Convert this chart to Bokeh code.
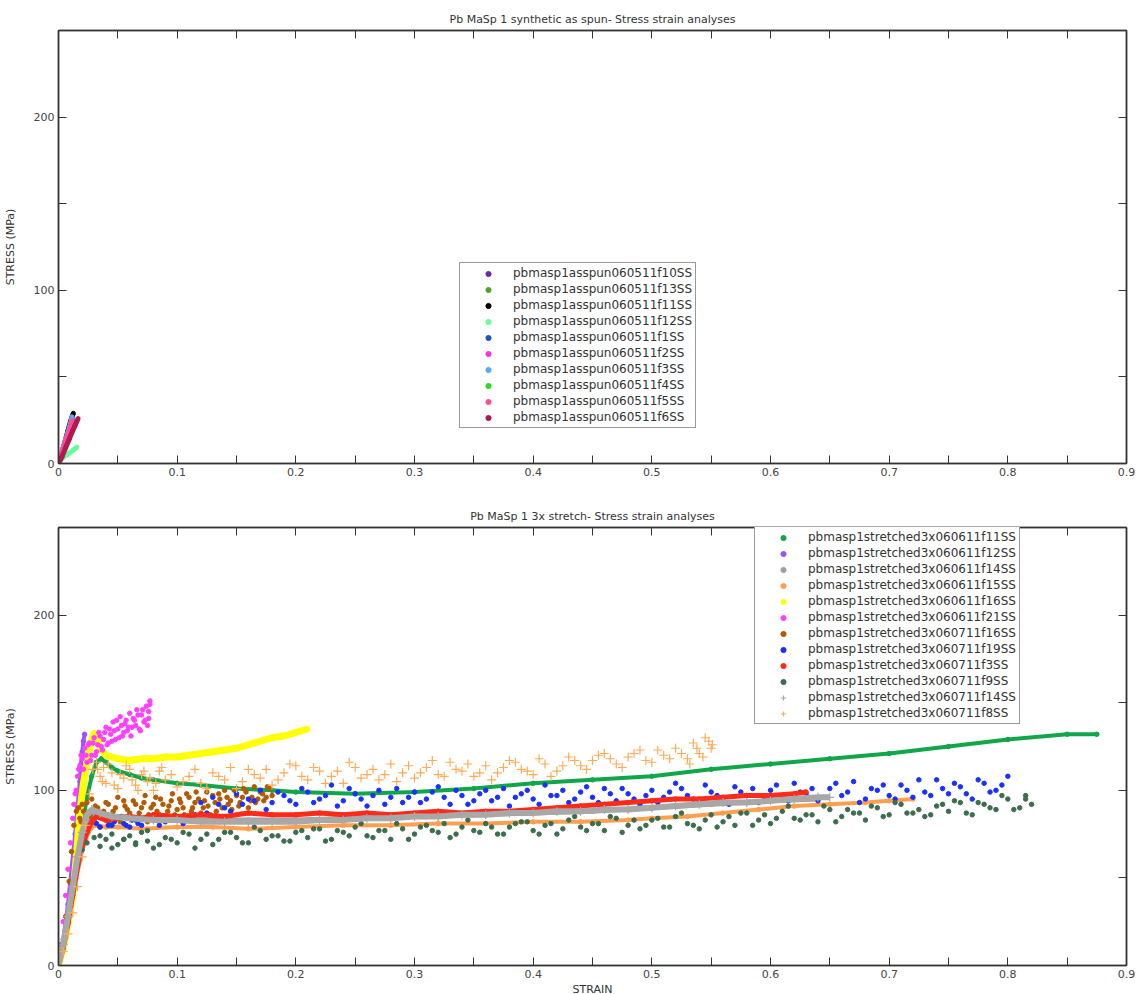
from bokeh.plotting import figure
from bokeh.models import FixedTicker, LinearAxis, Legend, LegendItem, Range1d
from bokeh.layouts import column
from bokeh.embed import file_html
from bokeh.resources import INLINE

FONT = "DejaVu Sans"

# ---------------- axis ticks ----------------
x_ticks = [0, 0.1, 0.2, 0.3, 0.4, 0.5, 0.6, 0.7, 0.8, 0.9]
x_tick_labels = ["0", "0.1", "0.2", "0.3", "0.4", "0.5", "0.6", "0.7", "0.8", "0.9"]
x_minor = [0.05, 0.15, 0.25, 0.35, 0.45, 0.55, 0.65, 0.75, 0.85]
y_ticks = [0, 100, 200]
y_tick_labels = ["0", "100", "200"]
y_minor = [50, 150]

# ---------------- top chart: as spun ----------------
top_names = ["pbmasp1asspun060511f10SS", "pbmasp1asspun060511f13SS", "pbmasp1asspun060511f11SS",
             "pbmasp1asspun060511f12SS", "pbmasp1asspun060511f1SS", "pbmasp1asspun060511f2SS",
             "pbmasp1asspun060511f3SS", "pbmasp1asspun060511f4SS", "pbmasp1asspun060511f5SS",
             "pbmasp1asspun060511f6SS"]
top_colors = ["#6a2bb0", "#5aa02c", "#000000", "#66ff99", "#2255bb", "#ff33dd",
              "#55aaff", "#22dd22", "#ff4d9a", "#b01a50"]

f10_strain = [0, 0.002, 0.004, 0.006, 0.008, 0.010, 0.011]
f10_stress = [0, 4, 8, 12, 16, 20, 22]
f13_strain = [0, 0.003, 0.005, 0.008, 0.010, 0.013]
f13_stress = [0, 5, 9, 14, 18, 24]
f11_strain = [0, 0.002, 0.004, 0.006, 0.008, 0.010, 0.0115, 0.0125]
f11_stress = [0, 4, 9, 14, 19, 24, 27, 29]
f12_strain = [0, 0.002, 0.004, 0.007, 0.010, 0.013, 0.0155]
f12_stress = [0, 2, 3.5, 5, 6.5, 8, 9.5]
f1_strain = [0, 0.003, 0.006, 0.009, 0.012]
f1_stress = [0, 6, 13, 19, 25]
f2_strain = [0, 0.002, 0.004, 0.006, 0.008, 0.010, 0.011]
f2_stress = [0, 4, 8, 12, 17, 21, 23]
f3_strain = [0, 0.002, 0.004, 0.006, 0.008, 0.010, 0.0115]
f3_stress = [0, 5, 9, 14, 18, 23, 27]
f4_strain = [0, 0.003, 0.006, 0.008, 0.010]
f4_stress = [0, 5, 11, 14, 18]
f5_strain = [0, 0.002, 0.004, 0.006, 0.008, 0.010, 0.0115]
f5_stress = [0, 4, 9, 13, 17, 21, 25]
f6_strain = [0, 0.003, 0.006, 0.009, 0.012, 0.014, 0.0165]
f6_stress = [0, 4, 9, 14, 19, 22, 26]

top_strain = [f10_strain, f13_strain, f11_strain, f12_strain, f1_strain, f2_strain,
              f3_strain, f4_strain, f5_strain, f6_strain]
top_stress = [f10_stress, f13_stress, f11_stress, f12_stress, f1_stress, f2_stress,
              f3_stress, f4_stress, f5_stress, f6_stress]

# ---------------- bottom chart: 3x stretched ----------------
bot_names = ["pbmasp1stretched3x060611f11SS", "pbmasp1stretched3x060611f12SS",
             "pbmasp1stretched3x060611f14SS", "pbmasp1stretched3x060611f15SS",
             "pbmasp1stretched3x060611f16SS", "pbmasp1stretched3x060611f21SS",
             "pbmasp1stretched3x060711f16SS", "pbmasp1stretched3x060711f19SS",
             "pbmasp1stretched3x060711f3SS", "pbmasp1stretched3x060711f9SS",
             "pbmasp1stretched3x060711f14SS", "pbmasp1stretched3x060711f8SS"]
bot_colors = ["#12a64a", "#9b55ff", "#a0a0a0", "#ffa050", "#ffff00", "#ff40ff",
              "#b35900", "#1a30ff", "#ff2a1a", "#3c6e4e", "#a8a8a8", "#ffaa55"]

a11_strain = [0, 0.004, 0.008, 0.012, 0.016, 0.02, 0.024, 0.028, 0.032, 0.036, 0.04, 0.045, 0.05,
              0.06, 0.07, 0.08, 0.1, 0.12, 0.15, 0.18, 0.2, 0.25, 0.3, 0.35, 0.4, 0.45, 0.5, 0.55,
              0.6, 0.65, 0.7, 0.75, 0.8, 0.85, 0.875]
a11_stress = [0, 12, 28, 45, 62, 80, 96, 108, 116, 118, 116, 113, 111, 109, 107, 106, 104, 103,
              101, 100, 99, 98, 99, 101, 104, 106, 108, 112, 115, 118, 121, 125, 129, 132, 132]

a12_strain = [0, 0.004, 0.008, 0.011, 0.014, 0.016, 0.018, 0.019, 0.02, 0.021, 0.022]
a12_stress = [0, 15, 35, 55, 75, 90, 105, 115, 122, 128, 132]

a14_strain = [0, 0.005, 0.01, 0.015, 0.02, 0.025, 0.03, 0.05, 0.08, 0.12, 0.16, 0.2, 0.25, 0.3,
              0.35, 0.4, 0.45, 0.5, 0.55, 0.6, 0.64]
a14_stress = [0, 14, 33, 52, 70, 84, 88, 85, 84, 83, 83, 83, 84, 85, 86, 87, 88, 90, 92, 94, 95]

a15_strain = [0, 0.005, 0.01, 0.015, 0.02, 0.025, 0.03, 0.04, 0.05, 0.07, 0.1, 0.13, 0.16, 0.2,
              0.24, 0.28, 0.32, 0.36, 0.4, 0.44, 0.48, 0.5, 0.53, 0.56, 0.59, 0.62, 0.65, 0.68,
              0.7, 0.72]
a15_stress = [0, 12, 30, 50, 66, 76, 80, 79, 79, 78, 79, 79, 78, 79, 80, 80, 81, 81, 82, 82, 83,
              84, 85, 87, 89, 91, 92, 93, 94, 95]

a16_strain = [0, 0.004, 0.008, 0.012, 0.015, 0.018, 0.021, 0.024, 0.027, 0.03, 0.033, 0.036, 0.04,
              0.05, 0.06, 0.07, 0.08, 0.09, 0.1, 0.11, 0.12, 0.13, 0.14, 0.15, 0.16, 0.17, 0.18,
              0.19, 0.2, 0.21]
a16_stress = [0, 10, 24, 40, 62, 88, 104, 116, 126, 133, 128, 123, 120, 118, 117, 118, 118, 119,
              119, 120, 121, 122, 123, 124, 126, 128, 130, 131, 133, 135]

a21_strain = [0, 0.002, 0.004, 0.006, 0.008, 0.01, 0.012, 0.014, 0.016, 0.018, 0.02, 0.022, 0.024,
              0.026, 0.028, 0.03, 0.032, 0.034, 0.036, 0.038, 0.04, 0.042, 0.044, 0.046, 0.048,
              0.05, 0.052, 0.054, 0.056, 0.058, 0.06, 0.062, 0.064, 0.066, 0.068, 0.07, 0.072,
              0.074, 0.076, 0.077,
              0.013, 0.015, 0.017, 0.019, 0.021, 0.023, 0.025, 0.027, 0.029, 0.031, 0.033, 0.035,
              0.037, 0.039, 0.041, 0.043, 0.045, 0.047, 0.049, 0.051, 0.053, 0.055, 0.057, 0.059,
              0.061, 0.063, 0.065, 0.067, 0.069, 0.071, 0.073, 0.075, 0.076, 0.077]
a21_stress = [0, 12, 25, 40, 55, 70, 84, 98, 108, 114, 118, 124, 116, 127, 120, 130, 122, 133,
              125, 129, 136, 127, 132, 139, 129, 135, 142, 131, 138, 134, 144, 136, 140, 146,
              135, 143, 139, 148, 141, 151,
              92, 100, 112, 120, 112, 120, 126, 117, 127, 120, 126, 131, 123, 133, 126, 135, 128,
              134, 140, 130, 137, 133, 140, 136, 131, 141, 137, 143, 134, 146, 140, 137, 145, 149]

b16_strain = [0, 0.003, 0.006, 0.009, 0.011, 0.013, 0.015, 0.018, 0.02, 0.022, 0.025, 0.028, 0.03,
              0.033, 0.036, 0.04, 0.043, 0.046, 0.05, 0.053, 0.056, 0.06, 0.063, 0.066, 0.07,
              0.073, 0.076, 0.08, 0.083, 0.086, 0.09, 0.093, 0.096, 0.1, 0.103, 0.106, 0.11,
              0.113, 0.116, 0.12, 0.123, 0.126, 0.13, 0.133, 0.136, 0.14, 0.143, 0.146, 0.15,
              0.153, 0.156, 0.16, 0.163, 0.166, 0.17, 0.173, 0.176, 0.18,
              0.017, 0.019, 0.021, 0.024, 0.027, 0.031, 0.035, 0.038, 0.042, 0.045, 0.048, 0.052,
              0.055, 0.058, 0.062, 0.065, 0.068, 0.072, 0.075, 0.078, 0.082, 0.085, 0.088, 0.092,
              0.095, 0.098, 0.102, 0.105, 0.108, 0.112, 0.115, 0.118, 0.122, 0.125, 0.128, 0.132,
              0.135, 0.138, 0.142, 0.145, 0.148, 0.152, 0.155, 0.158, 0.162, 0.165, 0.168, 0.172,
              0.175, 0.178]
b16_stress = [0, 12, 28, 48, 65, 80, 88, 84, 92, 80, 87, 95, 82, 90, 86, 93, 81, 88, 96, 85, 91,
              87, 94, 83, 90, 97, 86, 92, 88, 95, 84, 91, 98, 89, 93, 86, 96, 90, 99, 87, 94, 91,
              97, 88, 95, 100, 92, 89, 97, 93, 101, 90, 96, 93, 99, 94, 102, 97,
              90, 82, 88, 93, 85, 91, 79, 88, 92, 84, 90, 82, 94, 89, 84, 92, 87, 93, 82, 90, 96,
              86, 92, 88, 94, 86, 95, 90, 98, 88, 93, 95, 90, 99, 86, 93, 98, 90, 96, 94, 100, 91,
              96, 99, 94, 102, 95, 98, 96, 101]

b19_strain = [0, 0.004, 0.008, 0.012, 0.016, 0.02, 0.024, 0.03, 0.035, 0.04, 0.045, 0.05, 0.055,
              0.06, 0.065, 0.07, 0.08, 0.09, 0.1, 0.11, 0.12, 0.125, 0.13, 0.14, 0.15, 0.155,
              0.16, 0.17, 0.18, 0.19, 0.2, 0.21, 0.22, 0.23, 0.24, 0.25, 0.26, 0.27, 0.28, 0.29,
              0.3, 0.31, 0.32, 0.33, 0.34, 0.35, 0.36, 0.37, 0.38, 0.39, 0.4, 0.41, 0.42, 0.43,
              0.44, 0.45, 0.46, 0.47, 0.48, 0.49, 0.5, 0.51, 0.52, 0.53, 0.54, 0.55, 0.56, 0.57,
              0.58, 0.59, 0.6, 0.61, 0.62, 0.63, 0.64, 0.65, 0.66, 0.67, 0.68, 0.69, 0.7, 0.71,
              0.72, 0.73, 0.74, 0.75, 0.76, 0.77, 0.78, 0.79, 0.8,
              0.032, 0.037, 0.042, 0.047, 0.052, 0.057, 0.062, 0.067, 0.075, 0.085, 0.095, 0.105,
              0.115, 0.135, 0.145, 0.165, 0.175, 0.185, 0.195, 0.205, 0.215, 0.225, 0.235, 0.245,
              0.255, 0.265, 0.275, 0.285, 0.295, 0.305, 0.315, 0.325, 0.335, 0.345, 0.355, 0.365,
              0.375, 0.385, 0.395, 0.405, 0.415, 0.425, 0.435, 0.445, 0.455, 0.465, 0.475, 0.485,
              0.495, 0.505, 0.515, 0.525, 0.535, 0.545, 0.555, 0.565, 0.575, 0.585, 0.595, 0.605,
              0.615, 0.625, 0.635, 0.645, 0.655, 0.665, 0.675, 0.685, 0.695, 0.705, 0.715, 0.725,
              0.735, 0.745, 0.755, 0.765, 0.775, 0.785, 0.795]
b19_stress = [0, 10, 25, 42, 58, 72, 80, 82, 79, 83, 80, 84, 81, 79, 83, 80, 84, 82, 85, 83, 93,
              87, 96, 90, 98, 92, 95, 100, 93, 97, 92, 99, 95, 103, 94, 98, 91, 100, 96, 93, 99,
              95, 102, 92, 97, 94, 100, 96, 91, 98, 95, 103, 97, 93, 99, 96, 101, 94, 98, 92,
              100, 96, 104, 97, 93, 99, 95, 102, 97, 93, 100, 96, 104, 98, 94, 101, 97, 105, 95,
              100, 97, 103, 96, 99, 106, 98, 102, 95, 104, 100, 108,
              81, 84, 80, 82, 85, 80, 83, 81, 84, 80, 83, 81, 86, 92, 88, 94, 89, 99, 94, 101, 93,
              97, 91, 101, 95, 97, 92, 101, 96, 93, 99, 96, 100, 92, 98, 94, 101, 96, 100, 92,
              97, 100, 95, 102, 93, 98, 101, 95, 97, 93, 99, 101, 95, 103, 97, 92, 99, 101, 96,
              103, 94, 99, 101, 96, 104, 99, 93, 101, 103, 95, 100, 106, 97, 101, 104, 98, 106,
              99, 103]

b3_strain = [0, 0.004, 0.008, 0.012, 0.016, 0.02, 0.024, 0.028, 0.032, 0.04, 0.05, 0.06, 0.07,
             0.08, 0.1, 0.12, 0.14, 0.16, 0.18, 0.2, 0.22, 0.24, 0.26, 0.28, 0.3, 0.32, 0.34,
             0.36, 0.38, 0.4, 0.42, 0.44, 0.46, 0.48, 0.5, 0.52, 0.54, 0.56, 0.58, 0.6, 0.62,
             0.63]
b3_stress = [0, 10, 24, 40, 56, 68, 76, 82, 85, 83, 84, 85, 84, 86, 85, 86, 85, 87, 86, 86, 87,
             86, 87, 86, 87, 88, 87, 88, 88, 89, 90, 91, 92, 93, 94, 95, 95, 96, 97, 97, 98, 99]

b9_strain = [0, 0.004, 0.008, 0.012, 0.016, 0.02, 0.024, 0.03, 0.035, 0.04, 0.045, 0.05, 0.055,
             0.06, 0.065, 0.07, 0.075, 0.08, 0.09, 0.1, 0.11, 0.12, 0.13, 0.14, 0.15, 0.16, 0.17,
             0.18, 0.19, 0.2, 0.21, 0.22, 0.23, 0.24, 0.25, 0.26, 0.27, 0.28, 0.29, 0.3, 0.31,
             0.32, 0.33, 0.34, 0.35, 0.36, 0.37, 0.38, 0.39, 0.4, 0.41, 0.42, 0.43, 0.44, 0.45,
             0.46, 0.47, 0.48, 0.49, 0.5, 0.51, 0.52, 0.53, 0.54, 0.55, 0.56, 0.57, 0.58, 0.59,
             0.6, 0.61, 0.62, 0.63, 0.64, 0.65, 0.66, 0.67, 0.68, 0.69, 0.7, 0.71, 0.72, 0.73,
             0.74, 0.75, 0.76, 0.77, 0.78, 0.79, 0.8, 0.81, 0.815, 0.82,
             0.035, 0.045, 0.055, 0.065, 0.075, 0.085, 0.095, 0.105, 0.115, 0.125, 0.135, 0.145,
             0.155, 0.165, 0.175, 0.185, 0.195, 0.205, 0.215, 0.225, 0.235, 0.245, 0.255, 0.265,
             0.275, 0.285, 0.295, 0.305, 0.315, 0.325, 0.335, 0.345, 0.355, 0.365, 0.375, 0.385,
             0.395, 0.405, 0.415, 0.425, 0.435, 0.445, 0.455, 0.465, 0.475, 0.485, 0.495, 0.505,
             0.515, 0.525, 0.535, 0.545, 0.555, 0.565, 0.575, 0.585, 0.595, 0.605, 0.615, 0.625,
             0.635, 0.645, 0.655, 0.665, 0.675, 0.685, 0.695, 0.705, 0.715, 0.725, 0.735, 0.745,
             0.755, 0.765, 0.775, 0.785, 0.795, 0.805, 0.815]
b9_stress = [0, 12, 28, 45, 58, 66, 70, 73, 68, 72, 75, 69, 72, 74, 70, 76, 71, 67, 73, 70, 75,
             72, 69, 76, 73, 70, 77, 74, 71, 76, 73, 78, 72, 76, 79, 74, 77, 72, 78, 75, 80, 76,
             73, 79, 77, 81, 75, 79, 82, 77, 80, 75, 83, 79, 81, 77, 84, 80, 78, 83, 79, 85, 81,
             78, 86, 82, 80, 87, 83, 81, 88, 84, 86, 82, 89, 85, 87, 83, 90, 86, 92, 87, 85, 91,
             88, 93, 86, 92, 89, 95, 90, 97, 92,
             74, 67, 72, 69, 77, 69, 72, 76, 67, 75, 72, 76, 70, 79, 72, 74, 71, 77, 78, 71, 77,
             74, 81, 73, 77, 81, 72, 79, 77, 81, 75, 83, 76, 79, 75, 81, 82, 75, 81, 78, 85, 77,
             81, 85, 76, 83, 80, 84, 79, 87, 80, 83, 79, 85, 87, 80, 86, 84, 91, 83, 86, 91, 82,
             89, 87, 91, 85, 93, 87, 89, 86, 92, 94, 87, 93, 90, 97, 89, 95]

b14_strain = [0, 0.004, 0.008, 0.012, 0.016, 0.02, 0.024, 0.028, 0.035, 0.045, 0.06, 0.08, 0.1,
              0.12, 0.14, 0.16, 0.18, 0.2, 0.22, 0.24, 0.26, 0.28, 0.3, 0.32, 0.34, 0.36, 0.38,
              0.4, 0.42, 0.44, 0.46, 0.48, 0.5, 0.52, 0.54, 0.56, 0.58, 0.6, 0.62, 0.64, 0.65]
b14_stress = [0, 12, 28, 45, 62, 76, 86, 89, 87, 85, 84, 83, 83, 82, 82, 82, 82, 82, 83, 83, 84,
              84, 85, 85, 86, 86, 87, 87, 88, 88, 89, 89, 90, 91, 92, 93, 93, 94, 95, 96, 96]

b8_strain = [0, 0.004, 0.008, 0.012, 0.016, 0.02, 0.023, 0.026, 0.029, 0.032, 0.035, 0.038, 0.04,
             0.045, 0.05, 0.055, 0.06, 0.065, 0.07, 0.075, 0.08, 0.085, 0.09, 0.1, 0.11, 0.12,
             0.13, 0.14, 0.15, 0.16, 0.17, 0.18, 0.19, 0.2, 0.21, 0.22, 0.23, 0.24, 0.25, 0.26,
             0.27, 0.28, 0.29, 0.3, 0.31, 0.32, 0.33, 0.34, 0.35, 0.36, 0.37, 0.38, 0.39, 0.4,
             0.41, 0.42, 0.43, 0.44, 0.45, 0.46, 0.47, 0.48, 0.49, 0.5, 0.51, 0.52, 0.53, 0.535,
             0.54, 0.545, 0.55,
             0.033, 0.037, 0.042, 0.047, 0.052, 0.057, 0.062, 0.067, 0.072, 0.077, 0.082, 0.087,
             0.095, 0.105, 0.115, 0.125, 0.135, 0.145, 0.155, 0.165, 0.175, 0.185, 0.195, 0.205,
             0.215, 0.225, 0.235, 0.245, 0.255, 0.265, 0.275, 0.285, 0.295, 0.305, 0.315, 0.325,
             0.335, 0.345, 0.355, 0.365, 0.375, 0.385, 0.395, 0.405, 0.415, 0.425, 0.435, 0.445,
             0.455, 0.465, 0.475, 0.485, 0.495, 0.505, 0.515, 0.525, 0.532, 0.538, 0.543, 0.548,
             0.551]
b8_stress = [0, 8, 18, 30, 45, 62, 80, 98, 112, 116, 108, 113, 104, 110, 101, 107, 112, 103, 109,
             105, 100, 111, 106, 102, 108, 104, 110, 106, 101, 112, 107, 103, 110, 114, 106, 111,
             108, 104, 113, 109, 106, 115, 110, 107, 113, 109, 116, 111, 108, 114, 110, 117, 112,
             109, 115, 111, 119, 114, 117, 121, 115, 119, 123, 116, 120, 124, 118, 127, 121, 130,
             124,
             112, 105, 115, 103, 109, 114, 106, 100, 111, 107, 104, 113, 109, 105, 112, 101, 108,
             113, 105, 109, 112, 106, 115, 108, 113, 104, 111, 116, 107, 112, 109, 105, 114, 110,
             117, 108, 112, 115, 110, 106, 113, 116, 111, 118, 108, 114, 117, 112, 120, 118, 113,
             121, 117, 123, 118, 121, 115, 124, 119, 128, 126]

bot_strain = [a11_strain, a12_strain, a14_strain, a15_strain, a16_strain, a21_strain,
              b16_strain, b19_strain, b3_strain, b9_strain, b14_strain, b8_strain]
bot_stress = [a11_stress, a12_stress, a14_stress, a15_stress, a16_stress, a21_stress,
              b16_stress, b19_stress, b3_stress, b9_stress, b14_stress, b8_stress]
# band width drawn behind points (0 = points only)
bot_band = [4, 4, 5, 4, 7, 0, 0, 0, 5, 0, 6, 0]
bot_marker = ["circle"] * 10 + ["cross", "cross"]


def style_axis(ax, labels=True):
    ax.major_tick_in = 8
    ax.major_tick_out = 0
    ax.minor_tick_in = 8
    ax.minor_tick_out = 0
    ax.major_tick_line_color = "#333333"
    ax.minor_tick_line_color = "#333333"
    ax.axis_line_color = "#333333"
    ax.axis_line_width = 1.5
    ax.major_label_text_font = FONT
    ax.major_label_text_color = "#444444"
    ax.axis_label_text_font = FONT
    ax.axis_label_text_font_style = "normal"
    ax.axis_label_text_font_size = "11px"
    ax.axis_label_text_color = "#333333"
    if labels:
        ax.major_label_text_font_size = "11px"
        ax.major_label_standoff = 4
    else:
        ax.major_label_text_font_size = "0px"
        ax.major_label_standoff = 0


def make_fig(frame_h, top, bottom, title, xlabel):
    p = figure(frame_width=1068, frame_height=frame_h, x_range=Range1d(0, 0.9),
               y_range=Range1d(0, 250), output_backend="svg", toolbar_location=None,
               min_border_left=52, min_border_right=12, min_border_top=top,
               min_border_bottom=bottom, title=title)
    p.title.align = "center"
    p.title.text_font = FONT
    p.title.text_font_size = "11px"
    p.title.text_font_style = "normal"
    p.title.text_color = "#333333"
    p.grid.visible = False
    p.outline_line_color = "#555555"
    p.outline_line_width = 1.5
    xt = FixedTicker(ticks=x_ticks, minor_ticks=x_minor)
    yt = FixedTicker(ticks=y_ticks, minor_ticks=y_minor)
    xa = p.below[0]
    ya = p.left[0]
    xa.ticker = xt
    ya.ticker = yt
    xa.major_label_overrides = dict(zip(x_ticks, x_tick_labels))
    ya.major_label_overrides = dict(zip(y_ticks, y_tick_labels))
    style_axis(xa)
    style_axis(ya)
    ya.axis_label = "STRESS (MPa)"
    ya.axis_label_standoff = 14
    if xlabel:
        xa.axis_label = xlabel
        xa.axis_label_standoff = 2
    ta = LinearAxis(ticker=xt, major_label_overrides={t: "" for t in x_ticks})
    ra = LinearAxis(ticker=yt, major_label_overrides={t: "" for t in y_ticks})
    style_axis(ta, False)
    style_axis(ra, False)
    p.add_layout(ta, "above")
    p.add_layout(ra, "right")
    return p


def make_legend(items, loc):
    return Legend(items=items, location=loc, label_text_font=FONT, label_text_font_size="12px",
                  label_text_color="#333333", label_height=13, glyph_height=13, glyph_width=50,
                  label_standoff=0, spacing=2, padding=3, margin=0,
                  border_line_color="#333333", border_line_width=1.2,
                  background_fill_color="white", background_fill_alpha=1.0)


# ---- top figure ----
p1 = make_fig(433, 30, 18, "Pb MaSp 1 synthetic as spun- Stress strain analyses", None)
items1 = []
for name, col, xs, ys in zip(top_names, top_colors, top_strain, top_stress):
    p1.line(xs, ys, line_color=col, line_width=5)
    r = p1.scatter(xs, ys, size=4, marker="circle", fill_color=col, line_color=col)
    items1.append(LegendItem(label=name, renderers=[r]))
p1.add_layout(make_legend(items1, (401, 35)))

# ---- bottom figure ----
p2 = make_fig(438, 46, 29, "Pb MaSp 1 3x stretch- Stress strain analyses", "STRAIN")
items2 = []
for name, col, xs, ys, band, mk in zip(bot_names, bot_colors, bot_strain, bot_stress,
                                        bot_band, bot_marker):
    if band:
        p2.line(xs, ys, line_color=col, line_width=band)
    if mk == "cross":
        r = p2.scatter(xs, ys, size=9, marker="cross", line_color=col, line_width=1.2)
    else:
        r = p2.scatter(xs, ys, size=4.5, marker="circle", fill_color=col, line_color=col)
    items2.append(LegendItem(label=name, renderers=[r]))
p2.add_layout(make_legend(items2, (696, 241)))

layout = column(p1, p2, spacing=0)
open("out.html", "w").write(file_html(layout, INLINE))
